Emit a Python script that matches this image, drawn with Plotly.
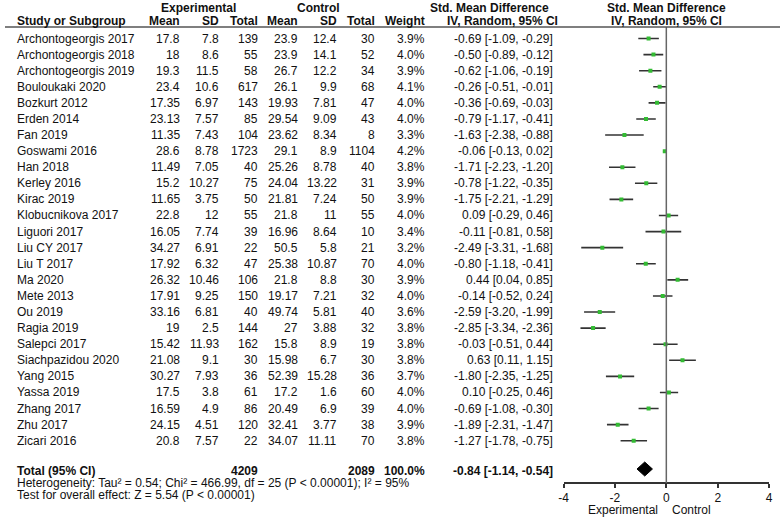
import plotly.graph_objects as go

studies = ["Archontogeorgis 2017", "Archontogeorgis 2018", "Archontogeorgis 2019", "Bouloukaki 2020",
           "Bozkurt 2012", "Erden 2014", "Fan 2019", "Goswami 2016", "Han 2018", "Kerley 2016",
           "Kirac 2019", "Klobucnikova 2017", "Liguori 2017", "Liu CY 2017", "Liu T 2017", "Ma 2020",
           "Mete 2013", "Ou 2019", "Ragia 2019", "Salepci 2017", "Siachpazidou 2020", "Yang 2015",
           "Yassa 2019", "Zhang 2017", "Zhu 2017", "Zicari 2016"]
exp_mean = ["17.8", "18", "19.3", "23.4", "17.35", "23.13", "11.35", "28.6", "11.49", "15.2",
            "11.65", "22.8", "16.05", "34.27", "17.92", "26.32", "17.91", "33.16", "19", "15.42",
            "21.08", "30.27", "17.5", "16.59", "24.15", "20.8"]
exp_sd = ["7.8", "8.6", "11.5", "10.6", "6.97", "7.57", "7.43", "8.78", "7.05", "10.27",
          "3.75", "12", "7.74", "6.91", "6.32", "10.46", "9.25", "6.81", "2.5", "11.93",
          "9.1", "7.93", "3.8", "4.9", "4.51", "7.57"]
exp_total = [139, 55, 58, 617, 143, 85, 104, 1723, 40, 75, 50, 55, 39, 22, 47, 106, 150, 40, 144, 162,
             30, 36, 61, 86, 120, 22]
ctl_mean = ["23.9", "23.9", "26.7", "26.1", "19.93", "29.54", "23.62", "29.1", "25.26", "24.04",
            "21.81", "21.8", "16.96", "50.5", "25.38", "21.8", "19.17", "49.74", "27", "15.8",
            "15.98", "52.39", "17.2", "20.49", "32.41", "34.07"]
ctl_sd = ["12.4", "14.1", "12.2", "9.9", "7.81", "9.09", "8.34", "8.9", "8.78", "13.22",
          "7.24", "11", "8.64", "5.8", "10.87", "8.8", "7.21", "5.81", "3.88", "8.9",
          "6.7", "15.28", "1.6", "6.9", "3.77", "11.11"]
ctl_total = [30, 52, 34, 68, 47, 43, 8, 1104, 40, 31, 50, 55, 10, 21, 70, 30, 32, 40, 32, 19,
             30, 36, 60, 39, 38, 70]
weight = [3.9, 4.0, 3.9, 4.1, 4.0, 4.0, 3.3, 4.2, 3.8, 3.9, 3.9, 4.0, 3.4, 3.2, 4.0, 3.9, 4.0, 3.6,
          3.8, 3.8, 3.8, 3.7, 4.0, 4.0, 3.9, 3.8]
smd = [-0.69, -0.50, -0.62, -0.26, -0.36, -0.79, -1.63, -0.06, -1.71, -0.78, -1.75, 0.09, -0.11,
       -2.49, -0.80, 0.44, -0.14, -2.59, -2.85, -0.03, 0.63, -1.80, 0.10, -0.69, -1.89, -1.27]
ci_low = [-1.09, -0.89, -1.06, -0.51, -0.69, -1.17, -2.38, -0.13, -2.23, -1.22, -2.21, -0.29, -0.81,
          -3.31, -1.18, 0.04, -0.52, -3.20, -3.34, -0.51, 0.11, -2.35, -0.25, -1.08, -2.31, -1.78]
ci_high = [-0.29, -0.12, -0.19, -0.01, -0.03, -0.41, -0.88, 0.02, -1.20, -0.35, -1.29, 0.46, 0.58,
           -1.68, -0.41, 0.85, 0.24, -1.99, -2.36, 0.44, 1.15, -1.25, 0.46, -0.30, -1.47, -0.75]

total_exp = 4209
total_ctl = 2089
total_weight = 100.0
total_smd = -0.84
total_low = -1.14
total_high = -0.54
heterogeneity = "Heterogeneity: Tau² = 0.54; Chi² = 466.99, df = 25 (P < 0.00001); I² = 95%"
overall = "Test for overall effect: Z = 5.54 (P < 0.00001)"
x_ticks = [-4, -2, 0, 2, 4]

W, H = 784, 518
ROW0, STEP = 38.5, 16.09


def yi(px):
    """page pixel y -> row index units"""
    return (px - ROW0) / STEP


def xp(px):
    """page pixel x -> paper fraction"""
    return px / W


FONT = dict(family="Liberation Sans, Arial, sans-serif", size=12, color="#111111")

rows = list(range(len(studies)))
fig = go.Figure()

fig.add_trace(go.Scatter(
    x=smd, y=rows, mode="markers",
    marker=dict(symbol="square", size=4, color="#33bb33"),
    error_x=dict(type="data", symmetric=False,
                 array=[h - m for h, m in zip(ci_high, smd)],
                 arrayminus=[m - l for m, l in zip(smd, ci_low)],
                 width=0, thickness=1.6, color="#333333"),
    hoverinfo="skip", showlegend=False))

ty = yi(469)
dh = 7 / STEP
fig.add_trace(go.Scatter(
    x=[total_low, total_smd, total_high, total_smd, total_low],
    y=[ty, ty - dh, ty, ty + dh, ty],
    mode="lines", fill="toself", fillcolor="black", line=dict(color="black", width=1),
    hoverinfo="skip", showlegend=False))

shapes = [
    dict(type="line", xref="x", yref="y", x0=0, x1=0, y0=yi(27), y1=yi(483),
         line=dict(color="#666666", width=1.5)),
    dict(type="line", xref="paper", yref="y", x0=0, x1=1, y0=yi(27), y1=yi(27),
         line=dict(color="#555555", width=1.5)),
]

ann = []


def add(text, px, row, anchor="right"):
    ann.append(dict(text=text, x=xp(px), y=row, xref="paper", yref="y",
                    xanchor=anchor, yanchor="middle", showarrow=False, font=FONT,
                    borderpad=0))


add("<b>Experimental</b>", 196, yi(8), "center")
add("<b>Control</b>", 317, yi(8), "center")
add("<b>Std. Mean Difference</b>", 490, yi(8), "center")
add("<b>Std. Mean Difference</b>", 669, yi(8), "center")
add("<b>Study or Subgroup</b>", 11, yi(21), "left")
add("<b>Mean</b>", 178, yi(21))
add("<b>SD</b>", 218, yi(21))
add("<b>Total</b>", 257, yi(21))
add("<b>Mean</b>", 297, yi(21))
add("<b>SD</b>", 337, yi(21))
add("<b>Total</b>", 375, yi(21))
add("<b>Weight</b>", 426, yi(21))
add("<b>IV, Random, 95% CI</b>", 503, yi(21), "center")
add("<b>IV, Random, 95% CI</b>", 669, yi(21), "center")

for i in rows:
    add(studies[i], 11, i, "left")
    add(exp_mean[i], 178, i)
    add(exp_sd[i], 218, i)
    add(str(exp_total[i]), 257, i)
    add(ctl_mean[i], 297, i)
    add(ctl_sd[i], 337, i)
    add(str(ctl_total[i]), 375, i)
    add(f"{weight[i]:.1f}%", 426, i)
    add(f"{smd[i]:.2f} [{ci_low[i]:.2f}, {ci_high[i]:.2f}]", 555, i)

tr = yi(470.5)
add("<b>Total (95% CI)</b>", 11, tr, "left")
add(f"<b>{total_exp}</b>", 257, tr)
add(f"<b>{total_ctl}</b>", 375, tr)
add(f"<b>{total_weight:.1f}%</b>", 426, tr)
add(f"<b>{total_smd:.2f} [{total_low:.2f}, {total_high:.2f}]</b>", 555, tr)
add(heterogeneity, 11, yi(483), "left")
add(overall, 11, yi(495), "left")
add("Experimental", 662, yi(510))
add("Control", 674, yi(510), "left")

fig.update_layout(
    width=W, height=H, margin=dict(l=0, r=0, t=0, b=0),
    paper_bgcolor="white", plot_bgcolor="rgba(0,0,0,0)",
    shapes=shapes, annotations=ann, showlegend=False,
    xaxis=dict(domain=[xp(565), xp(773)], range=[-4, 4], anchor="free",
               position=1 - 483 / H,
               showline=True, linecolor="#333333", linewidth=1.5, showgrid=False, zeroline=False,
               ticks="outside", ticklen=4, tickwidth=1.5, tickcolor="#333333",
               tickvals=x_ticks, ticktext=[str(v) for v in x_ticks], tickfont=FONT),
    yaxis=dict(domain=[0, 1], range=[yi(H), yi(0)], visible=False,
               showgrid=False, zeroline=False),
)

# remove the default 8px page margin so the figure fills the window
fig.write_html("out.html", config={"displayModeBar": False},
               post_script="document.body.style.margin='0';")
